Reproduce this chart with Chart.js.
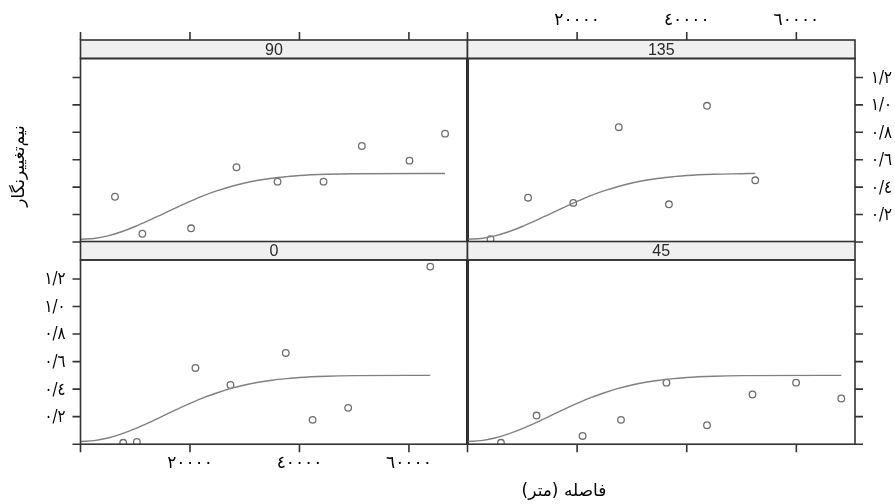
<!DOCTYPE html>
<html>
<head>
<meta charset="utf-8">
<script src="https://cdn.jsdelivr.net/npm/chart.js@4.4.1/dist/chart.umd.min.js"></script>
<style>
html, body { margin: 0; padding: 0; background: #fff; }
#wrap { position: relative; width: 895px; height: 504px; }
#wrap canvas { position: absolute; left: 0; top: 0; }
</style>
</head>
<body>
<div id="wrap">
  <canvas id="p90" width="895" height="504"></canvas>
  <canvas id="p135" width="895" height="504"></canvas>
  <canvas id="p0" width="895" height="504"></canvas>
  <canvas id="p45" width="895" height="504"></canvas>
</div>
<script>
// ticks
const xTicks = [0, 20000, 40000, 60000];
const xTickLabels = ['', '٢٠٠٠٠', '٤٠٠٠٠', '٦٠٠٠٠'];
const yTicks = [0, 0.2, 0.4, 0.6, 0.8, 1.0, 1.2];
const yTickLabels = ['', '٠/٢', '٠/٤', '٠/٦', '٠/٨', '١/٠', '١/٢'];

// semivariogram points per direction
const lag90 = [6300, 11300, 20200, 28500, 36000, 44400, 51400, 60100, 66600];
const gamma90 = [0.33, 0.06, 0.10, 0.545, 0.44, 0.44, 0.70, 0.593, 0.79];
const lag135 = [4200, 11050, 19300, 27600, 36750, 43700, 52500];
const gamma135 = [0.02, 0.323, 0.285, 0.837, 0.275, 0.993, 0.45];
const lag0 = [7800, 10300, 21000, 27400, 37500, 42400, 48900, 63900];
const gamma0 = [0.01, 0.016, 0.554, 0.43, 0.663, 0.177, 0.264, 1.29];
const lag45 = [6100, 12600, 21000, 28000, 36300, 43700, 52000, 59950, 68200];
const gamma45 = [0.01, 0.208, 0.06, 0.177, 0.447, 0.138, 0.361, 0.447, 0.332];

// fitted model line (same in every panel)
const modelLag = [0, 2500, 5000, 7500, 10000, 12500, 15000, 17500, 20000, 22500, 25000, 27500, 30000, 32500, 35000, 37500, 40000, 45000, 50000];
const modelGamma = [0.02, 0.026, 0.045, 0.075, 0.113, 0.157, 0.204, 0.251, 0.296, 0.338, 0.374, 0.405, 0.430, 0.450, 0.465, 0.476, 0.485, 0.494, 0.498];
const modelSill = 0.5;

const W = 895, H = 504;
const xMax = 70700, yMax = 1.338;
const stripH = 18.5, tickLen = 8, yLabW = 21;
const arabicFont = '"DejaVu Sans", sans-serif';

const panels = [
  { id: 'p90', name: '90', lags: lag90, gamma: gamma90, box: [80.5, 58.5, 467.5, 242], xSide: 'top', ySide: 'left', xLab: false, yLab: false, divider: true },
  { id: 'p135', name: '135', lags: lag135, gamma: gamma135, box: [467.5, 58.5, 855, 242], xSide: 'top', ySide: 'right', xLab: true, yLab: true, divider: false },
  { id: 'p0', name: '0', lags: lag0, gamma: gamma0, box: [80.5, 260, 467.5, 444.2], xSide: 'bottom', ySide: 'left', xLab: true, yLab: true, divider: true },
  { id: 'p45', name: '45', lags: lag45, gamma: gamma45, box: [467.5, 260, 855, 444.2], xSide: 'bottom', ySide: 'right', xLab: false, yLab: false, divider: false }
];

// strip, frame and outer ticks like a lattice panel
const latticePanel = {
  id: 'latticePanel',
  afterDraw(chart, args, o) {
    const { ctx, chartArea: a, scales: { x, y } } = chart;
    const st = a.top - stripH;
    ctx.save();
    ctx.fillStyle = '#f0f0f0';
    ctx.fillRect(a.left, st, a.right - a.left, stripH);
    ctx.strokeStyle = '#333';
    ctx.lineWidth = 1.6;
    ctx.strokeRect(a.left, st, a.right - a.left, stripH);
    ctx.strokeRect(a.left, a.top, a.right - a.left, a.bottom - a.top);

    ctx.fillStyle = '#2a2a2a';
    ctx.font = '16px "Liberation Sans", Arial, sans-serif';
    ctx.textAlign = 'center';
    ctx.textBaseline = 'middle';
    ctx.fillText(o.name, (a.left + a.right) / 2, st + stripH / 2 + 1);

    ctx.beginPath();
    xTicks.forEach(v => {
      const px = x.getPixelForValue(v);
      if (o.xSide === 'top') { ctx.moveTo(px, st); ctx.lineTo(px, st - tickLen); }
      else { ctx.moveTo(px, a.bottom); ctx.lineTo(px, a.bottom + tickLen); }
    });
    yTicks.forEach(v => {
      const py = y.getPixelForValue(v);
      if (o.ySide === 'left') { ctx.moveTo(a.left, py); ctx.lineTo(a.left - tickLen, py); }
      else { ctx.moveTo(a.right, py); ctx.lineTo(a.right + tickLen, py); }
    });
    ctx.stroke();

    ctx.fillStyle = '#000';
    ctx.font = '17px ' + arabicFont;
    if (o.xLab) {
      xTicks.forEach((v, i) => {
        const px = x.getPixelForValue(v);
        const py = o.xSide === 'top' ? st - tickLen - 11 : a.bottom + tickLen + 11;
        ctx.fillText(xTickLabels[i], px, py);
      });
    }
    if (o.yLab) {
      ctx.textAlign = 'right';
      yTicks.forEach((v, i) => {
        const py = y.getPixelForValue(v);
        const px = o.ySide === 'left' ? a.left - tickLen - 7 : a.right + tickLen + 8 + yLabW;
        ctx.fillText(yTickLabels[i], px, py + 1, yLabW);
      });
    }

    if (o.divider) {
      ctx.strokeStyle = '#000';
      ctx.lineWidth = 2.6;
      ctx.beginPath();
      ctx.moveTo(a.right, a.top);
      ctx.lineTo(a.right, a.bottom);
      ctx.stroke();
    }
    ctx.restore();
  }
};

// axis titles
const axisTitles = {
  id: 'axisTitles',
  afterDraw(chart) {
    const ctx = chart.ctx;
    ctx.save();
    ctx.fillStyle = '#000';
    ctx.font = '17px ' + arabicFont;
    ctx.direction = 'rtl';
    ctx.textAlign = 'center';
    ctx.textBaseline = 'middle';
    ctx.fillText('فاصله (متر)', 564, 492);
    ctx.translate(20, 166);
    ctx.rotate(-Math.PI / 2);
    ctx.fillText('نیم‌تغییرنگار', 0, 0);
    ctx.restore();
  }
};

panels.forEach((p, k) => {
  const [l, t, r, b] = p.box;
  const points = p.lags.map((v, i) => ({ x: v, y: p.gamma[i] }));
  const end = p.lags[p.lags.length - 1];
  const curve = modelLag.filter(v => v < end).map((v, i) => ({ x: v, y: modelGamma[i] }));
  curve.push({ x: end, y: modelSill });

  new Chart(document.getElementById(p.id), {
    type: 'scatter',
    data: {
      datasets: [
        {
          type: 'line',
          data: curve,
          borderColor: '#808080',
          borderWidth: 1.4,
          pointRadius: 0,
          cubicInterpolationMode: 'monotone',
          fill: false
        },
        {
          data: points,
          pointStyle: 'circle',
          pointRadius: 3.3,
          pointBorderWidth: 1.3,
          borderColor: '#6e6e6e',
          backgroundColor: 'rgba(0,0,0,0)'
        }
      ]
    },
    options: {
      responsive: false,
      animation: false,
      layout: { padding: { left: l, top: t, right: W - r, bottom: H - b } },
      plugins: {
        legend: { display: false },
        tooltip: { enabled: false },
        latticePanel: p
      },
      scales: {
        x: { type: 'linear', display: false, min: 0, max: xMax },
        y: { type: 'linear', display: false, min: 0, max: yMax }
      }
    },
    plugins: k === 0 ? [latticePanel, axisTitles] : [latticePanel]
  });
});
</script>
</body>
</html>
